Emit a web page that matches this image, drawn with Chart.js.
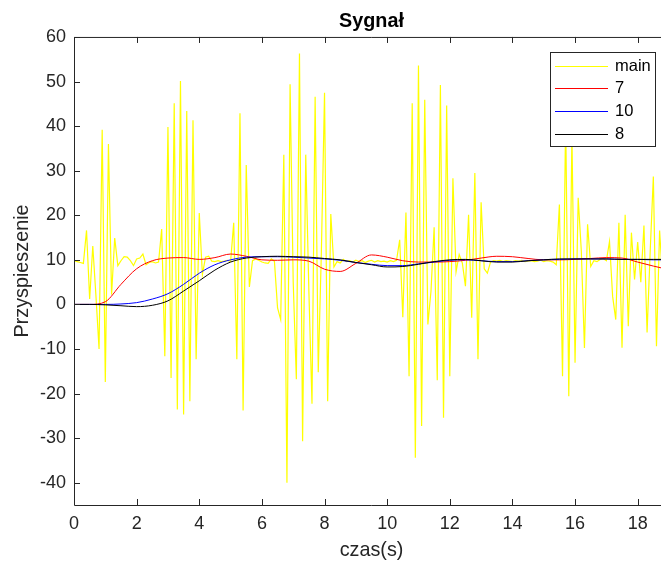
<!DOCTYPE html>
<html><head><meta charset="utf-8">
<script src="https://cdn.jsdelivr.net/npm/chart.js@4/dist/chart.umd.min.js"></script>
<style>html,body{margin:0;padding:0;overflow:hidden;background:#fff}#wrap{width:669px;height:563px}</style>
</head><body><div id="wrap"><canvas id="c" width="669" height="563"></canvas></div>
<script>
const titleText = 'Sygnał';
const xLabel = 'czas(s)';
const yLabel = 'Przyspieszenie';
const seriesNames = ['main', '7', '10', '8'];
const xTicks = [0, 2, 4, 6, 8, 10, 12, 14, 16, 18];
const yTicks = [-40, -30, -20, -10, 0, 10, 20, 30, 40, 50, 60];
const sampleStep = 0.1;
const mainSignal = [
9.8, 9.6, 9.4, 9.2, 16.6, 1.2, 13.1, 2, -10, 39.2,
-17.4, 36, 2.2, 14.9, 8.7, 9.8, 10.7, 10.6, 9.8, 8.7,
10.2, 10.4, 11.3, 8.9, 9.4, 9.6, 9.3, 9.5, 16.9, -11.6,
39.8, -16.5, 45.1, -23.6, 50.1, -24.7, 43.4, -21.7, 41.3, -12.3,
20.5, 6.7, 10.6, 10.8, 9.7, 9.6, 9.8, 9.6, 9.7, 9.9,
9.6, 18.3, -12.3, 42.9, -23.8, 31.3, 3.9, 9.8, 10.2, 9.9,
9.5, 9.3, 9.2, 10.2, 9.7, -0.8, -3.4, 33.6, -40, 49.4,
5, -16.8, 56.3, -30.7, 33.6, 3, -22.3, 46.6, -15.2, 12,
47.5, -21.7, 20.3, 8.4, 9.6, 9.3, 10.1, 9.6, 9.8, 9.5,
9.9, 9.6, 9.8, 9.4, 9.7, 9.9, 9.5, 9.8, 9.6, 9.7,
9.5, 9.8, 9.6, 9.9, 14.5, -2.9, 20.6, -16.1, 45.1, -34.4,
53.6, -27.3, 45.9, -4.5, 3, 17.3, -17, 49.2, -25.4, 44.6,
-16.1, 28.3, 7.3, 11.2, 9.3, 4.1, 20.1, -3, 29.5, -12.3,
22.9, 8, 7, 9.5, 9.8, 9.7, 9.9, 9.6, 9.8, 9.7,
9.6, 9.8, 9.7, 9.9, 9.6, 9.7, 9.8, 9.6, 9.7, 9.9,
9.6, 9.8, 9.7, 9.5, 8.9, 22.4, -16.1, 42, -20.6, 38,
-13.1, 23.9, 12, -9.8, 18, 8.5, 9.8, 9.6, 10.1, 10.3,
9.8, 14.1, 1.8, -3.4, 18.3, -9.7, 20.1, -4.9, 16.1, 5.6,
14, 5, 17.7, -6.3, 12, 28.7, -9.4, 16.6, 5, 12,
10
];
const smoothTime = [0,0.5,1,1.5,2,2.5,3,3.5,4,4.5,5,5.5,6,6.5,7,7.5,8,8.5,9,9.5,10,10.5,11,11.5,12,12.5,13,13.5,14,14.5,15,15.5,16,16.5,17,17.5,18,18.5,19];
const resp7 = [0,0,0.6,4.5,8.0,9.8,10.4,10.5,10.1,10.5,11.3,10.8,10.0,9.9,10.0,9.7,7.9,7.4,9.2,11.1,10.6,9.8,9.5,9.5,9.6,9.9,10.4,10.8,10.7,10.3,10.0,10.0,10.1,10.3,10.5,10.4,9.5,8.6,7.8];
const resp10 = [0,0,0,0.1,0.4,1.2,2.4,4.5,7.0,8.9,10.0,10.6,10.7,10.7,10.6,10.4,10.2,9.9,9.4,9.0,8.7,8.7,9.1,9.5,9.9,10.0,9.8,9.6,9.6,9.8,10.0,10.1,10.2,10.2,10.2,10.1,10.1,10.0,10.0];
const resp8 = [0,0,-0.1,-0.3,-0.5,-0.2,0.8,3.0,5.3,7.7,9.5,10.4,10.7,10.8,10.7,10.6,10.3,10.0,9.4,8.9,8.4,8.5,9.0,9.6,10.0,10.1,9.8,9.5,9.5,9.8,10.0,10.2,10.2,10.2,10.2,10.1,10.1,10.1,10.1];
const colors = ['#ffff00', '#ff0000', '#0000ff', '#000000'];

const FONT = '"Liberation Sans", Arial, Helvetica, sans-serif';
const AX = '#262626';

const mainPts = mainSignal.map((v, i) => ({x: +(i * sampleStep).toFixed(2), y: v}));
const mk = arr => smoothTime.map((t, i) => ({x: t, y: arr[i]}));

const framePlugin = {
  id: 'frame',
  afterDatasetsDraw(chart) {
    const {ctx, chartArea: a, scales: {x, y}} = chart;
    ctx.save();
    ctx.strokeStyle = AX; ctx.lineWidth = 1;
    ctx.beginPath();
    ctx.moveTo(a.left + 0.5, a.bottom + 0.5); ctx.lineTo(a.left + 0.5, a.top + 0.5);
    ctx.lineTo(a.right, a.top + 0.5);
    ctx.moveTo(a.left + 0.5, a.bottom + 0.5); ctx.lineTo(a.right, a.bottom + 0.5);
    const L = 6;
    xTicks.forEach(v => {
      const px = Math.round(x.getPixelForValue(v)) + 0.5;
      ctx.moveTo(px, a.bottom); ctx.lineTo(px, a.bottom - L);
      ctx.moveTo(px, a.top); ctx.lineTo(px, a.top + L);
    });
    yTicks.forEach(v => {
      const py = Math.round(y.getPixelForValue(v)) + 0.5;
      ctx.moveTo(a.left, py); ctx.lineTo(a.left + L, py);
      ctx.moveTo(a.right, py); ctx.lineTo(a.right - L, py);
    });
    ctx.stroke();
    ctx.restore();
  },
  afterDraw(chart) {
    const {ctx, chartArea: a} = chart;
    const w = 105, h = 94;
    const bx = Math.round(a.right - 14 - w), by = Math.round(a.top + 15);
    ctx.save();
    ctx.fillStyle = '#ffffff'; ctx.fillRect(bx, by, w, h);
    ctx.strokeStyle = AX; ctx.lineWidth = 1; ctx.strokeRect(bx + 0.5, by + 0.5, w, h);
    seriesNames.forEach((name, i) => {
      const yy = Math.round(by + 13.5 + i * 22.7);
      ctx.fillStyle = colors[i];
      ctx.fillRect(bx + 5, yy, 53, 1);
    });
    ctx.font = '16.5px ' + FONT; ctx.textBaseline = 'middle';
    ctx.fillStyle = '#000000';
    seriesNames.forEach((name, i) => {
      const yy = Math.round(by + 13.5 + i * 22.7) + 0.5;
      ctx.fillText(name, bx + 65, yy);
    });
    ctx.restore();
  }
};

new Chart(document.getElementById('c'), {
  type: 'line',
  data: {
    datasets: [
      {label: seriesNames[0], data: mainPts, borderColor: colors[0], borderWidth: 1.2, pointRadius: 0, tension: 0, order: 4},
      {label: seriesNames[1], data: mk(resp7), borderColor: colors[1], borderWidth: 1, pointRadius: 0, cubicInterpolationMode: 'monotone', order: 3},
      {label: seriesNames[2], data: mk(resp10), borderColor: colors[2], borderWidth: 1, pointRadius: 0, cubicInterpolationMode: 'monotone', order: 2},
      {label: seriesNames[3], data: mk(resp8), borderColor: colors[3], borderWidth: 1, pointRadius: 0, cubicInterpolationMode: 'monotone', order: 1}
    ]
  },
  options: {
    responsive: false, animation: false, devicePixelRatio: 1,
    layout: {padding: 0},
    plugins: {
      legend: {display: false}, tooltip: {enabled: false},
      title: {display: true, text: titleText, fullSize: false, color: '#000',
        font: {family: FONT, size: 19.8, weight: 'bold'}, padding: {top: 10, bottom: 3.2}}
    },
    scales: {
      x: {type: 'linear', min: 0, max: 19,
        grid: {display: false, drawTicks: false}, border: {display: false},
        afterBuildTicks: s => { s.ticks = xTicks.map(v => ({value: v})); },
        afterFit: s => { s.height = 58; },
        ticks: {color: AX, font: {family: FONT, size: 18}, padding: 8, maxRotation: 0, autoSkip: false},
        title: {display: true, text: xLabel, color: AX, font: {family: FONT, size: 19.8}, padding: {top: 0, bottom: 1}}
      },
      y: {type: 'linear', min: -45, max: 60,
        grid: {display: false, drawTicks: false}, border: {display: false},
        afterBuildTicks: s => { s.ticks = yTicks.map(v => ({value: v})); },
        afterFit: s => { s.width = 74; },
        ticks: {color: AX, font: {family: FONT, size: 18}, padding: 8, autoSkip: false},
        title: {display: true, text: yLabel, color: AX, font: {family: FONT, size: 19.8}, padding: {top: 11, bottom: 0}}
      }
    }
  },
  plugins: [framePlugin]
});
</script></body></html>
